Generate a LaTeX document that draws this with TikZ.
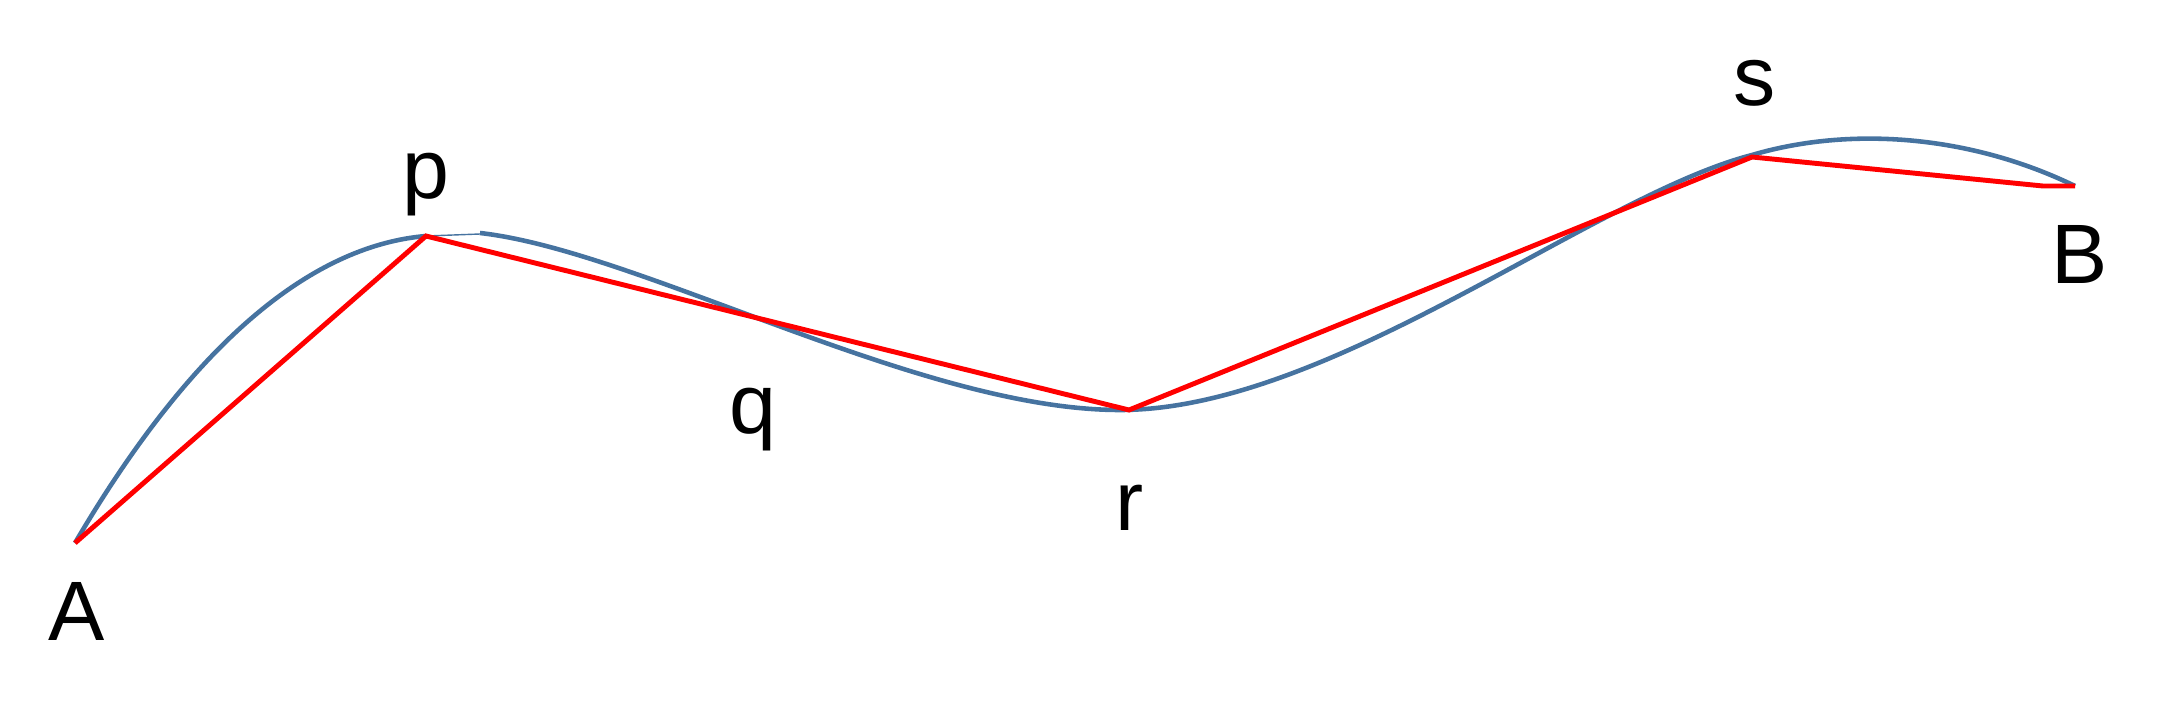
\documentclass[tikz,border=0pt]{standalone}
\usepackage{fontspec}
\setmainfont{Liberation Sans}
\definecolor{curveblue}{RGB}{70,115,160}
\definecolor{chordred}{RGB}{255,0,0}
\tikzset{
  curveline/.style={draw=curveblue,line width=2.6pt},
  chordline/.style={draw=chordred,line width=2.8pt,line join=miter},
  ptlabel/.style={anchor=base,inner sep=0pt,font=\fontsize{48}{58}\selectfont}
}
\begin{document}
\begin{tikzpicture}[x=0.02cm,y=-0.02cm]
\useasboundingbox (0,0) rectangle (2158,710);
% points
\coordinate (A) at (75,543);
\coordinate (P) at (426,236);
\coordinate (Pe) at (480,234);
\coordinate (P2) at (480,233);
\coordinate (R) at (1129,410);
\coordinate (Rm) at (1120,410);
\coordinate (S) at (1752,157);
\coordinate (Sb) at (1752,155);
\coordinate (Bk) at (2043,186);
\coordinate (B) at (2075,186);
% blue curve
\draw[curveline] (A) .. controls (200,330) and (320,245) .. (P);
\draw[draw=curveblue,line width=0.8pt] (P) -- (Pe);
\draw[curveline] (P2) .. controls (640,251) and (920,410) .. (Rm)
  .. controls (1330,410) and (1593,196) .. (Sb)
  .. controls (1850,126) and (1970,135) .. (B);
% red chords
\draw[chordline] (A) -- (P) -- (R) -- (S) -- (Bk) -- (B);
% labels
\node[ptlabel] (lA) at (77,640) {A};
\node[ptlabel] (lp) at (426,198) {p};
\node[ptlabel] (lq) at (753,433) {q};
\node[ptlabel] (lr) at (1130,530) {r};
\node[ptlabel] (ls) at (1755,105) {s};
\node[ptlabel] (lB) at (2080,283) {B};
\end{tikzpicture}
\end{document}
